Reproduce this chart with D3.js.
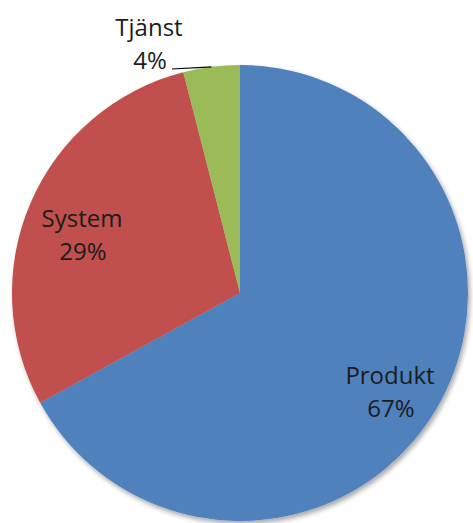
<!DOCTYPE html>
<html>
<head>
<meta charset="utf-8">
<script src="https://cdn.jsdelivr.net/npm/d3@7/dist/d3.min.js"></script>
<style>
  html, body { margin: 0; padding: 0; background: #fff; }
  svg { display: block; }
  text { font-family: "Open Sans", Lato, sans-serif; fill: #1c1c1c; }
</style>
</head>
<body>
<svg id="chart" width="473" height="523"></svg>
<script>
// Share of offerings by type
const categories = ["Produkt", "System", "Tjänst"];
const shares = [67, 29, 4];
const colors = ["#4F81BD", "#C0504D", "#9BBB59"];

const cx = 240, cy = 293, R = 228;

const svg = d3.select("#chart");

// soft drop shadow under the pie
const defs = svg.append("defs");
const f = defs.append("filter").attr("id", "shadow")
  .attr("x", "-10%").attr("y", "-10%").attr("width", "120%").attr("height", "120%");
f.append("feGaussianBlur").attr("in", "SourceAlpha").attr("stdDeviation", 2.5).attr("result", "b");
f.append("feOffset").attr("in", "b").attr("dx", 2).attr("dy", 3).attr("result", "o");
f.append("feComponentTransfer").attr("in", "o").attr("result", "s")
  .append("feFuncA").attr("type", "linear").attr("slope", 0.35);
const m = f.append("feMerge");
m.append("feMergeNode").attr("in", "s");
m.append("feMergeNode").attr("in", "SourceGraphic");

const data = categories.map((c, i) => ({ name: c, value: shares[i], color: colors[i] }));

const pie = d3.pie().value(d => d.value).sort(null);
const arcs = pie(data);
const arc = d3.arc().innerRadius(0).outerRadius(R);

const g = svg.append("g").attr("transform", `translate(${cx},${cy})`);
g.append("g").attr("filter", "url(#shadow)")
  .selectAll("path").data(arcs).join("path")
  .attr("d", arc)
  .attr("fill", d => d.data.color);

// label anchor points, relative to the pie centre (name baseline)
const labelPos = [[150, 91], [-158, -66], [-91, -257]];
const lineGap = 33;

arcs.forEach((d, i) => {
  const [x, y] = labelPos[i];
  const t = g.append("text").attr("text-anchor", "middle").attr("font-size", 24);
  t.append("tspan").attr("x", x).attr("y", y).text(d.data.name);
  t.append("tspan").attr("x", x + 1).attr("y", y + lineGap).text(d.data.value + "%");
});

// leader line from the small slice to its label
const small = arcs[2];
const mid = (small.startAngle + small.endAngle) / 2;
const edge = [Math.sin(mid) * R, -Math.cos(mid) * R];
g.append("line")
  .attr("x1", -68).attr("y1", -224)
  .attr("x2", edge[0]).attr("y2", edge[1])
  .attr("stroke", "#000").attr("stroke-width", 1.2);
</script>
</body>
</html>
